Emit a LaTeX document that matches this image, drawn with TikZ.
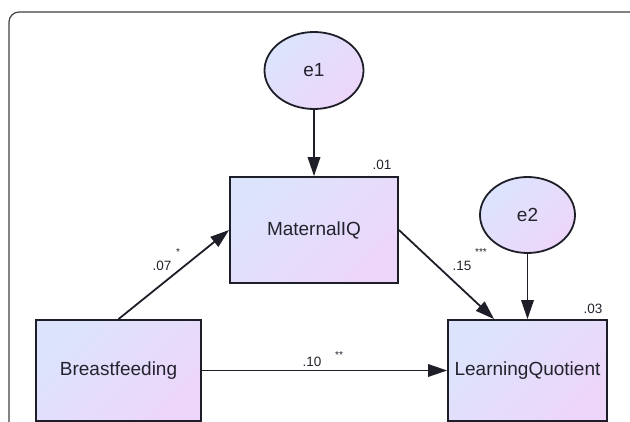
\documentclass[tikz,border=0pt]{standalone}
\usepackage{fontspec}
\setmainfont{Liberation Sans}
\usepackage{tikz}
\usetikzlibrary{arrows.meta,shapes,calc,positioning}
\definecolor{fillA}{RGB}{220,228,253}
\definecolor{fillB}{RGB}{237,214,250}
\definecolor{edgecol}{RGB}{30,30,40}
\definecolor{textcol}{RGB}{35,35,45}
\tikzset{
	obsvar/.style={draw=edgecol, line width=1.8pt, rectangle, top color=fillA, bottom color=fillB, shading angle=45,
		font=\fontsize{19}{22}\selectfont, text=textcol, inner sep=0pt},
	errvar/.style={draw=edgecol, line width=1.8pt, ellipse, top color=fillA, bottom color=fillB, shading angle=45,
		font=\fontsize{19}{22}\selectfont, text=textcol, inner sep=0pt},
	path/.style={-{Triangle[length=19pt,width=12.5pt]}, line width=1.8pt, edgecol},
	coef/.style={font=\fontsize{13.5}{16}\selectfont, text=textcol, inner sep=0pt},
	sig/.style={font=\fontsize{10}{10}\selectfont, text=textcol, inner sep=0pt},
}

\begin{document}
\begin{tikzpicture}[x=1pt, y=-1pt]
\useasboundingbox (0,0) rectangle (630,422);
\clip (0,0) rectangle (630,422);

%the frame
\draw[gray!50!black, line width=1.2pt, rounded corners=10pt] (9,12) rectangle (660,460);

% the shapes
\node[errvar, minimum width=99pt, minimum height=77pt] at (314,70.5) (e1) {e1};
\node[errvar, minimum width=95pt, minimum height=76pt] at (527.5,215) (e2) {e2};
\node[obsvar, minimum width=168pt, minimum height=106pt] at (314,230) (miq) {MaternalIQ};
\node[obsvar, minimum width=165pt, minimum height=101pt] at (118.5,370.5) (bf) {Breastfeeding};
\node[obsvar, minimum width=159pt, minimum height=101pt] at (527.5,370.5) (lq) {LearningQuotient};
\coordinate (lqin) at ([xshift=47pt]lq.north west);

% the arrows
\draw[path] (e1) -- (miq);
\draw[path] (e2) -- (lq);
\draw[path] (bf.north) -- (miq.west);
\draw[path] (miq.east) -- (lqin);
\draw[path] (bf.east) -- (lq.west);

%the names
\node[coef] at (162,266) (c07) {.07};
\node[sig] at (178,252) (s07) {*};
\node[coef] at (462,266) (c15) {.15};
\node[sig] at (481,252) (s15) {***};
\node[coef] at (312,362) (c10) {.10};
\node[sig] at (339,355) (s10) {**};
\node[coef] at (382,165) (r01) {.01};
\node[coef] at (593,309) (r03) {.03};
\end{tikzpicture}
\end{document}
